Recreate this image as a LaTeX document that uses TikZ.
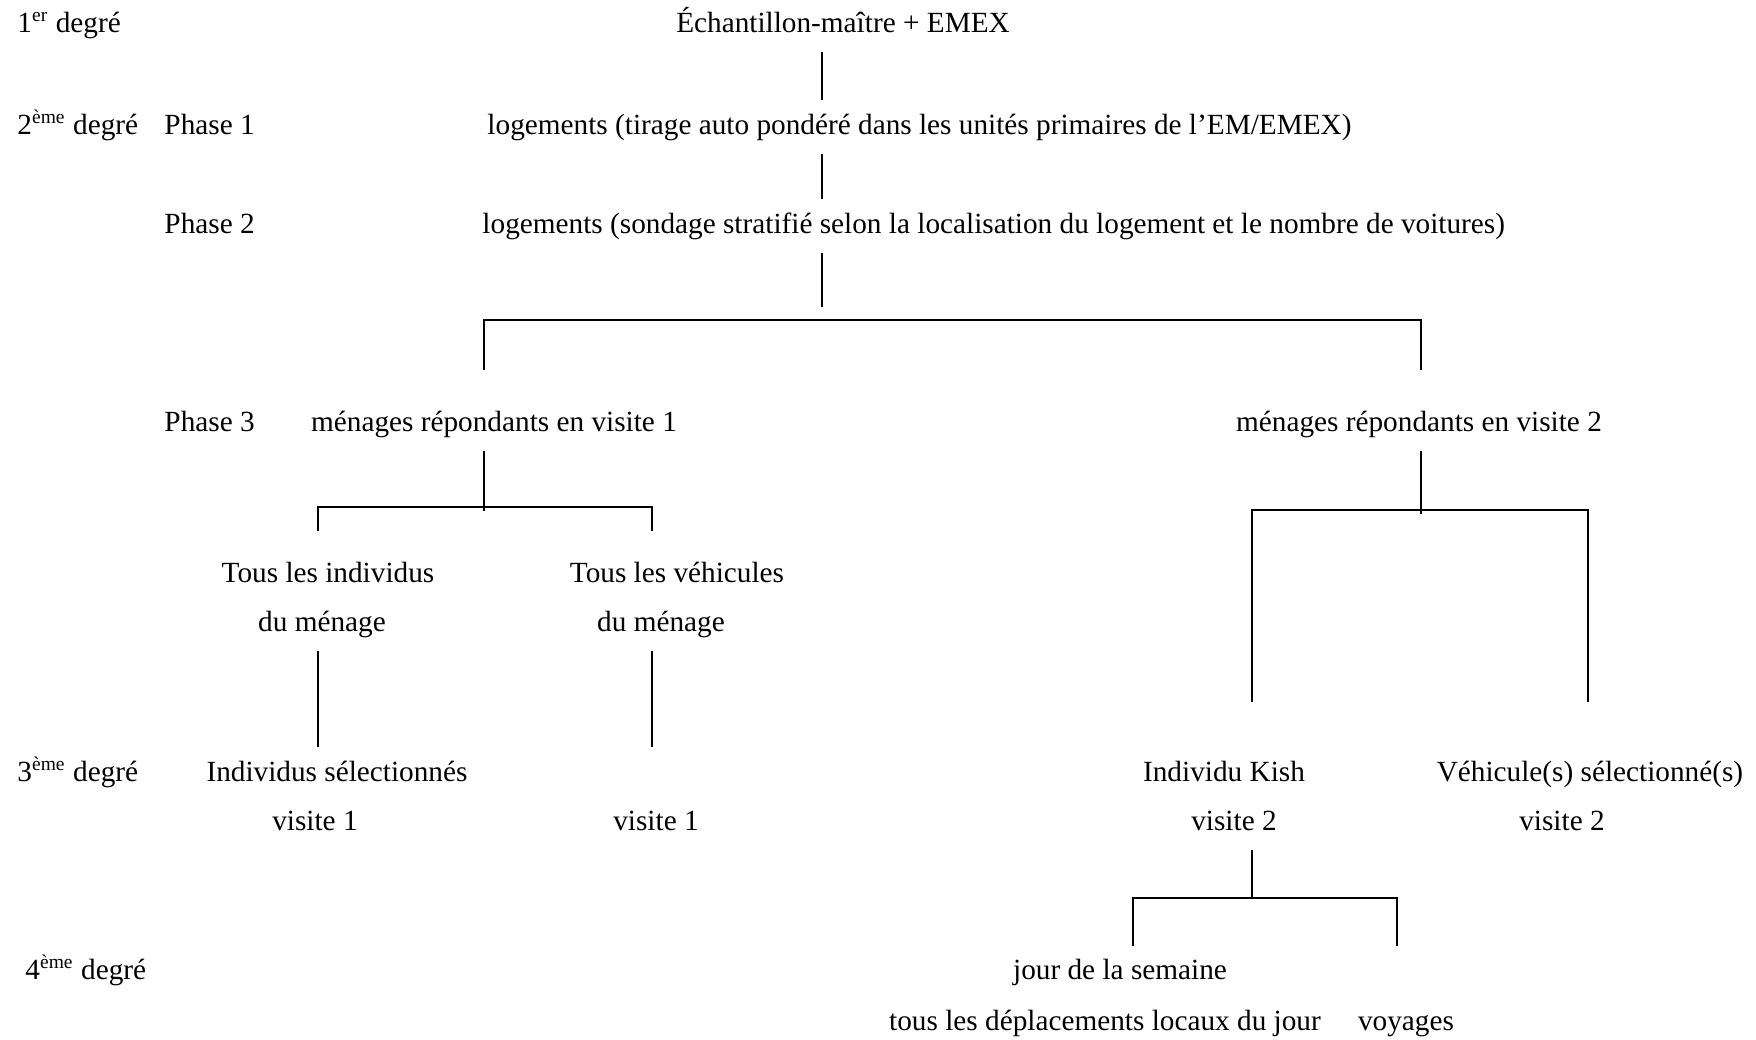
\documentclass[tikz,border=0pt]{standalone}
\usepackage{fontspec}
\setmainfont{Liberation Serif}

\begin{document}
\begin{tikzpicture}[x=0.41pt, y=-0.41pt,
    every node/.style={font=\fontsize{12}{14}\selectfont, inner sep=0pt,
                       text height=9pt, text depth=3pt, outer ysep=5pt},
    lvl/.style={anchor=west},
    branch/.style={draw, line width=0.8pt}]
  \useasboundingbox (0,0) rectangle (1756,1040);

  % degres et phases
  \node[lvl] (deg1) at (17,25)  {1\textsuperscript{er} degré};
  \node[lvl] (deg2) at (17,127) {2\textsuperscript{ème} degré};
  \node[lvl] (deg3) at (17,774) {3\textsuperscript{ème} degré};
  \node[lvl] (deg4) at (25,972) {4\textsuperscript{ème} degré};
  \node[lvl] (ph1) at (164,127) {Phase 1};
  \node[lvl] (ph2) at (164,226) {Phase 2};
  \node[lvl] (ph3) at (164,424) {Phase 3};

  \node (em)   at (843,25)  {Échantillon-maître + EMEX};
  \node[lvl] (log1) at (487,127) {logements (tirage auto pondéré dans les unités primaires de l’EM/EMEX)};
  \node[lvl] (log2) at (482,226) {logements (sondage stratifié selon la localisation du logement et le nombre de voitures)};

  \node (men1) at (494,424)  {ménages répondants en visite 1};
  \node (men2) at (1419,424) {ménages répondants en visite 2};

  \node (ind1) at (328,575) {Tous les individus};
  \node (ind2) at (322,624) {du ménage};
  \node (veh1) at (677,575) {Tous les véhicules};
  \node (veh2) at (661,624) {du ménage};

  \node (sel1) at (337,774) {Individus sélectionnés};
  \node (sel2) at (315,823) {visite 1};
  \node (vis1) at (656,823) {visite 1};

  \node (kish1) at (1224,774) {Individu Kish};
  \node (kish2) at (1234,823) {visite 2};
  \node (vsel1) at (1590,774) {Véhicule(s) sélectionné(s)};
  \node (vsel2) at (1562,823) {visite 2};

  \node (jour) at (1120,972)  {jour de la semaine};
  \node (depl) at (1105,1023) {tous les déplacements locaux du jour};
  \node (voy)  at (1406,1023) {voyages};

  % embranchements
  \coordinate (trunk) at (822,307);
  \coordinate (b1l) at (484,320);  \coordinate (b1r) at (1421,320);
  \coordinate (d1l) at (484,370);  \coordinate (d1r) at (1421,370);
  \coordinate (b2l) at (318,507);  \coordinate (b2r) at (652,507);
  \coordinate (d2l) at (318,531);  \coordinate (d2r) at (652,531);
  \coordinate (b3l) at (1252,510); \coordinate (b3r) at (1588,510);
  \coordinate (d3l) at (1252,702); \coordinate (d3r) at (1588,702);
  \coordinate (b4l) at (1133,898); \coordinate (b4r) at (1397,898);
  \coordinate (d4l) at (1133,946); \coordinate (d4r) at (1397,946);

  \path[branch] (trunk |- log1.north) -- (trunk |- em.south);
  \path[branch] (trunk |- log1.south) -- (trunk |- log2.north);
  \path[branch] (trunk |- log2.south) -- (trunk);
  \path[branch] (d1l) -- (b1l) -- (b1r) -- (d1r);

  \path[branch, shorten >=-1.6pt] (men1.south -| b1l) -- (b1l |- b2l);
  \path[branch] (d2l) -- (b2l) -- (b2r) -- (d2r);
  \path[branch] (ind2.south -| b2l) -- (b2l |- sel1.north);
  \path[branch] (veh2.south -| b2r) -- (b2r |- sel1.north);

  \path[branch, shorten >=-1.6pt] (men2.south -| b1r) -- (b1r |- b3l);
  \path[branch] (d3l) -- (b3l) -- (b3r) -- (d3r);

  \path[branch] (kish2.south -| b3l) -- (b3l |- b4l);
  \path[branch] (d4l) -- (b4l) -- (b4r) -- (d4r);
\end{tikzpicture}
\end{document}
